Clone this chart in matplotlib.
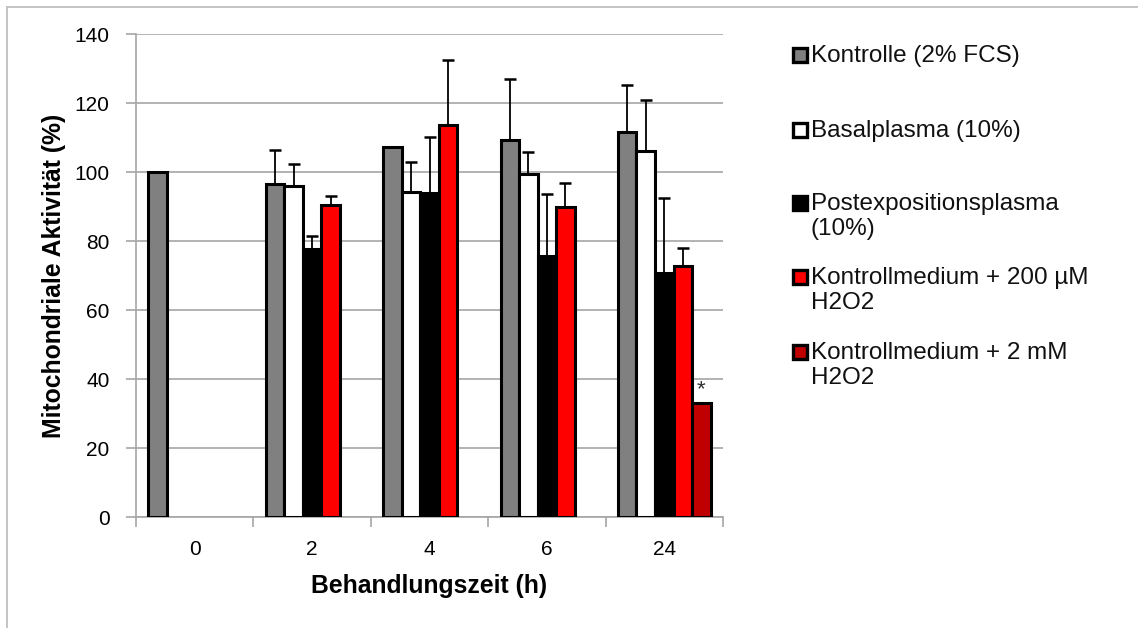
import numpy as np
import matplotlib
matplotlib.use("Agg")
import matplotlib.pyplot as plt
from matplotlib.patches import Rectangle

plt.rcParams['font.family'] = ['Liberation Sans', 'DejaVu Sans']

# Behandlungszeit (h)
categories = ["0", "2", "4", "6", "24"]

series_names = [
    "Kontrolle (2% FCS)",
    "Basalplasma (10%)",
    "Postexpositionsplasma\n(10%)",
    "Kontrollmedium + 200 µM\nH2O2",
    "Kontrollmedium + 2 mM\nH2O2",
]
series_colors = ["#808080", "#FFFFFF", "#000000", "#FF0000", "#C00000"]

nan = np.nan
kontrolle = [100.0, 96.7, 107.4, 109.4, 111.7]
kontrolle_err = [0.0, 9.8, 0.0, 17.7, 13.7]
basalplasma = [nan, 96.0, 94.2, 99.5, 106.3]
basalplasma_err = [0.0, 6.3, 8.7, 6.5, 14.7]
postexposition = [nan, 77.7, 93.9, 75.7, 70.7]
postexposition_err = [0.0, 3.9, 16.3, 18.1, 21.9]
h2o2_200um = [nan, 90.6, 113.6, 89.9, 72.8]
h2o2_200um_err = [0.0, 2.6, 19.0, 6.9, 5.2]
h2o2_2mm = [nan, nan, nan, nan, 33.0]
h2o2_2mm_err = [0.0, 0.0, 0.0, 0.0, 0.0]

values = [kontrolle, basalplasma, postexposition, h2o2_200um, h2o2_2mm]
errors = [kontrolle_err, basalplasma_err, postexposition_err, h2o2_200um_err, h2o2_2mm_err]

# significance marker: (category index, series index)
significant = [(4, 4)]

fig = plt.figure(figsize=(11.38, 6.28), dpi=100)
fig.patch.set_facecolor("white")

# thin frame along the top and left of the chart area
fig.add_artist(plt.Line2D([7 / 1138, 7 / 1138], [0, 1 - 7 / 628], transform=fig.transFigure,
                          color="#BFBFBF", lw=1.3))
fig.add_artist(plt.Line2D([7 / 1138, 1], [1 - 7 / 628, 1 - 7 / 628], transform=fig.transFigure,
                          color="#BFBFBF", lw=1.3))

ax = fig.add_axes([136 / 1138, 1 - 517.3 / 628, 587 / 1138, 483 / 628])

x = np.arange(len(categories))
width = 0.158
n = len(values)

for i, (vals, errs, col) in enumerate(zip(values, errors, series_colors)):
    pos = x + (i - (n - 1) / 2) * width
    v = np.array(vals, dtype=float)
    e = np.array(errs, dtype=float)
    ax.bar(pos, v, width=width, color=col, edgecolor="black", linewidth=2.2, zorder=3)
    mask = (~np.isnan(v)) & (e > 0)
    if mask.any():
        ax.errorbar(pos[mask], v[mask], yerr=[np.zeros(mask.sum()), e[mask]],
                    fmt="none", ecolor="black", elinewidth=1.3, capsize=4.5,
                    capthick=1.8, zorder=4)

for ci, si in significant:
    pos = x[ci] + (si - (n - 1) / 2) * width
    ax.text(pos, values[si][ci] + 1.0, "*", ha="center", va="bottom",
            fontsize=16, color="#303030", zorder=5)

ax.set_xlim(-0.5, len(categories) - 0.5)
ax.set_ylim(0, 140)
ax.set_yticks(np.arange(0, 141, 20))
ax.set_xticks(x)
ax.set_xticklabels(categories)
ax.set_xticks(np.arange(-0.5, len(categories), 1.0), minor=True)

ax.grid(axis="y", color="#A6A6A6", lw=1.2, zorder=0)
ax.set_axisbelow(True)
for s in ["top", "right"]:
    ax.spines[s].set_visible(False)
for s in ["left", "bottom"]:
    ax.spines[s].set_color("#A6A6A6")
    ax.spines[s].set_linewidth(1.2)

ax.tick_params(axis="y", direction="out", length=7, width=1.2, color="#A6A6A6",
               labelsize=15, pad=12)
ax.tick_params(axis="x", which="major", length=0, labelsize=15, pad=16)
ax.tick_params(axis="x", which="minor", direction="out", length=7, width=1.2,
               color="#A6A6A6")

ax.set_xlabel("Behandlungszeit (h)", fontsize=17.8, fontweight="bold", labelpad=11)
ax.set_ylabel("Mitochondriale Aktivität (%)", fontsize=17.8, fontweight="bold", labelpad=6)

# legend drawn as a column of entries to the right of the plot
legend_y = [55, 130, 203, 277, 352]
for name, col, yp in zip(series_names, series_colors, legend_y):
    fy = 1 - yp / 628
    fig.add_artist(Rectangle((793 / 1138, fy - 7 / 628), 14 / 1138, 14 / 628,
                             transform=fig.transFigure, facecolor=col,
                             edgecolor="black", lw=2.4))
    fig.text(811 / 1138, fy + 10 / 628, name, ha="left", va="top", fontsize=17.5,
             linespacing=1.2, color="#111111", transform=fig.transFigure)

fig.savefig("out.png", dpi=100, facecolor="white")
